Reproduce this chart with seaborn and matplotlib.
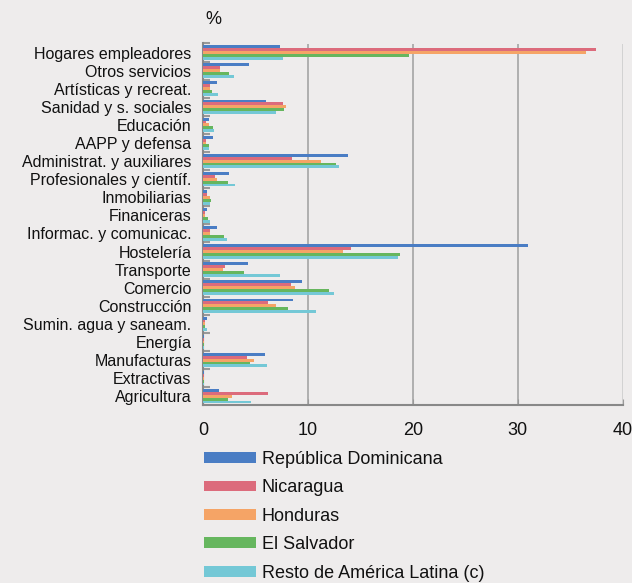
import numpy as np
import pandas as pd
import matplotlib
matplotlib.use("Agg")
import matplotlib.pyplot as plt
import seaborn as sns
from matplotlib.patches import Patch

categories = ["Hogares empleadores", "Otros servicios", "Artísticas y recreat.",
              "Sanidad y s. sociales", "Educación", "AAPP y defensa",
              "Administrat. y auxiliares", "Profesionales y científ.", "Inmobiliarias",
              "Finaniceras", "Informac. y comunicac.", "Hostelería", "Transporte",
              "Comercio", "Construcción", "Sumin. agua y saneam.", "Energía",
              "Manufacturas", "Extractivas", "Agricultura"]
series = ["República Dominicana", "Nicaragua", "Honduras", "El Salvador",
          "Resto de América Latina (c)"]

rep_dominicana = [7.3, 4.4, 1.3, 6.0, 0.5, 0.9, 13.8, 2.45, 0.35, 0.35, 1.3, 31.0, 4.3, 9.45, 8.6, 0.35, 0.05, 5.85, 0.05, 1.5]
nicaragua      = [37.5, 1.6, 0.65, 7.6, 0.3, 0.3, 8.45, 1.1, 0.4, 0.15, 0.65, 14.1, 2.1, 8.35, 6.2, 0.15, 0.05, 4.2, 0.05, 6.2]
honduras       = [36.5, 1.6, 0.6, 7.9, 0.55, 0.3, 11.2, 1.3, 0.6, 0.2, 0.6, 13.3, 1.9, 8.75, 6.9, 0.2, 0.05, 4.8, 0.05, 2.75]
el_salvador    = [19.6, 2.45, 0.8, 7.65, 0.9, 0.55, 12.7, 2.35, 0.73, 0.45, 2.0, 18.8, 3.9, 11.96, 8.1, 0.15, 0.05, 4.45, 0.05, 2.35]
resto_al       = [7.6, 2.9, 1.4, 6.9, 1.0, 0.55, 12.95, 3.0, 0.6, 0.63, 2.25, 18.6, 7.3, 12.5, 10.75, 0.35, 0.05, 6.1, 0.05, 4.55]

colors = ["#4A7DC4", "#DC6B7C", "#F5A466", "#66B65E", "#74C8D6"]
bg = "#EEECEC"

rows = []
for s, vals in zip(series, [rep_dominicana, nicaragua, honduras, el_salvador, resto_al]):
    for c, v in zip(categories, vals):
        rows.append({"sector": c, "pais": s, "valor": v})
df = pd.DataFrame(rows)

plt.rcParams["font.family"] = ["Liberation Sans", "DejaVu Sans"]

fig = plt.figure(figsize=(6.32, 5.83), dpi=100, facecolor=bg)
ax = fig.add_axes([203.3 / 632, 1 - 405.3 / 583, 419.4 / 632, (405.3 - 43.5) / 583])
ax.set_facecolor(bg)

sns.barplot(data=df, y="sector", x="valor", hue="pais", order=categories,
            hue_order=series, palette=colors, orient="h", width=0.8,
            saturation=1, ax=ax, legend=False, zorder=3)

ax.set_xlim(0, 40)
ax.set_ylim(len(categories) - 0.5, -0.5)
ax.set_xticks([0, 10, 20, 30, 40])
ax.set_xlabel("")
ax.set_ylabel("")
ax.grid(axis="x", color="#AAAAAA", linewidth=1.3, zorder=0)
ax.grid(axis="y", visible=False)
gl = ax.get_xgridlines()
gl[-1].set_color("#D0D0D0")
for side in ["top", "right"]:
    ax.spines[side].set_visible(False)
for side in ["left", "bottom"]:
    ax.spines[side].set_color("#888888")
    ax.spines[side].set_linewidth(1.5)
ax.tick_params(axis="x", direction="in", length=4, color="#999999", labelsize=13,
               pad=12, labelcolor="#111111")
ax.tick_params(axis="y", which="major", length=0, labelsize=11.5, pad=8.5, labelcolor="#111111")
ax.set_yticks(np.arange(-0.5, len(categories) - 0.5, 1), minor=True)
ax.tick_params(axis="y", which="minor", direction="in", length=5, width=1.5, color="#999999")

fig.text(205 / 632, 1 - 19 / 583, "%", fontsize=13, va="center", ha="left", color="#111111")

handles = [Patch(facecolor=c, edgecolor="none") for c in colors]
leg = ax.legend(handles, series, loc="upper left",
                bbox_to_anchor=(204 / 632, 1 - 451 / 583), bbox_transform=fig.transFigure,
                frameon=False, borderpad=0, borderaxespad=0, fontsize=13,
                handlelength=2.88, handleheight=0.55, handletextpad=0.33,
                labelspacing=0.63)
for t in leg.get_texts():
    t.set_color("#111111")

fig.savefig("out.png", dpi=100, facecolor=bg)
